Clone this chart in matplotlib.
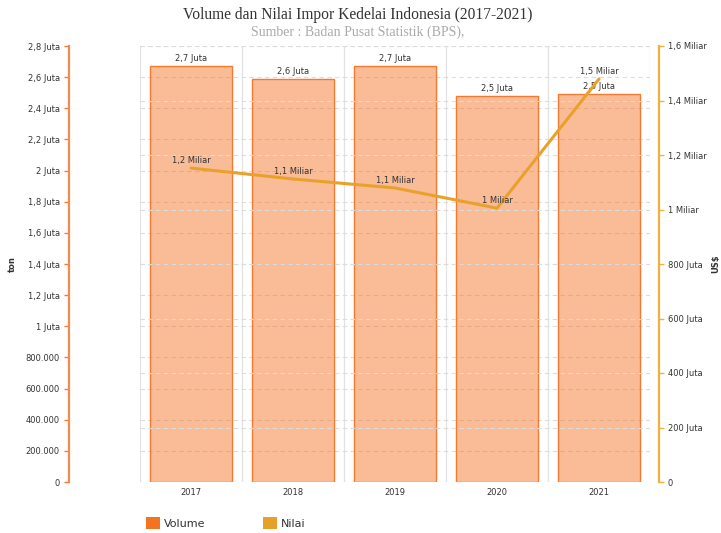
import matplotlib
matplotlib.use("Agg")
import matplotlib.pyplot as plt
from matplotlib.patches import Patch
from matplotlib.ticker import FuncFormatter, MultipleLocator
import numpy as np

years = ["2017", "2018", "2019", "2020", "2021"]
volume_ton = [2671000, 2588000, 2671000, 2479000, 2490000]
nilai_usd = [1152e6, 1112e6, 1079e6, 1005e6, 1479e6]

title = "Volume dan Nilai Impor Kedelai Indonesia (2017-2021)"
subtitle = "Sumber : Badan Pusat Statistik (BPS),"

def fmt_dec(x):
    s = f"{x:.1f}"
    if s.endswith(".0"):
        s = s[:-2]
    return s.replace(".", ",")

def fmt_num(v, pos=None):
    if abs(v) < 1e-9:
        return "0"
    if v >= 1e9:
        return fmt_dec(v / 1e9) + " Miliar"
    if v >= 1e6:
        return fmt_dec(v / 1e6) + " Juta"
    return f"{int(round(v)):,}".replace(",", ".")

W, H = 721, 533
PX = 0.72  # points per pixel at dpi 100
fig = plt.figure(figsize=(W / 100, H / 100), dpi=100)
ax = fig.add_axes([140 / W, (H - 482) / H, (650 - 140) / W, (482 - 46) / H])
ax2 = ax.twinx()

bar_col = "#F47A30"
line_col = "#E8A22B"
grid_col = "#dcdcdc"
txt_col = "#333333"
fs = 6.0

x = np.arange(len(years))
ax.bar(x, volume_ton, width=0.8, color=bar_col, alpha=0.5, edgecolor="none", zorder=2)
ax.bar(x, volume_ton, width=0.8, fill=False, edgecolor=bar_col, linewidth=1.0, zorder=3)
ax.set_xlim(-0.5, len(years) - 0.5)
ax.set_ylim(0, 2.8e6)
ax.yaxis.set_major_locator(MultipleLocator(2e5))
ax.yaxis.set_major_formatter(FuncFormatter(fmt_num))
ax.set_xticks(x)
ax.set_xticklabels(years)
ax.set_xticks(np.arange(-0.5, len(years)), minor=True)
ax.tick_params(axis="x", which="both", length=0, labelsize=fs, labelcolor=txt_col, pad=6 * PX)
ax.tick_params(axis="y", length=5 * PX, width=1, color=bar_col, labelsize=fs, labelcolor=txt_col, pad=4 * PX)
ax.set_axisbelow(True)
ax.grid(axis="y", which="major", color=grid_col, linestyle=(0, (4, 3)), linewidth=0.8)
ax.grid(axis="x", which="minor", color="#e2e2e2", linestyle="-", linewidth=0.9)
for s in ["top", "bottom", "right"]:
    ax.spines[s].set_visible(False)
ax.spines["left"].set_position(("outward", 71 * PX))
ax.spines["left"].set_color("#F58A4F")
ax.spines["left"].set_linewidth(1.6)
ax.set_ylabel("ton", fontsize=fs, fontweight="bold", color=txt_col)
ax.yaxis.set_label_coords(-(140 - 17) / 510, 0.5)

for xi, v in zip(x, volume_ton):
    ax.annotate(fmt_num(v), (xi, v), xytext=(0, 2), textcoords="offset points",
                ha="center", va="bottom", fontsize=fs, color=txt_col, zorder=5)

ax2.plot(x, nilai_usd, color=line_col, linewidth=2.2, zorder=4, solid_capstyle="round")
ax2.set_ylim(0, 1.6e9)
ax2.yaxis.set_major_locator(MultipleLocator(2e8))
ax2.yaxis.set_major_formatter(FuncFormatter(fmt_num))
ax2.tick_params(axis="y", length=5 * PX, width=1, color="#F0B040", labelsize=fs, labelcolor=txt_col, pad=4 * PX)
ax2.grid(axis="y", color=grid_col, linestyle=(0, (4, 3)), linewidth=0.8)
for s in ["top", "bottom", "left"]:
    ax2.spines[s].set_visible(False)
ax2.spines["right"].set_position(("outward", 9 * PX))
ax2.spines["right"].set_color("#F0B040")
ax2.spines["right"].set_linewidth(1.6)
ax2.set_ylabel("US$", fontsize=fs, fontweight="bold", color=txt_col, rotation=90)
ax2.yaxis.set_label_coords((711 - 140) / 510, 0.5)
for xi, v in zip(x, nilai_usd):
    ax2.annotate(fmt_num(v), (xi, v), xytext=(0, 2.5), textcoords="offset points",
                 ha="center", va="bottom", fontsize=fs, color=txt_col, zorder=5)

fig.text(358 / W, 1 - 15 / H, title, ha="center", va="center",
         fontsize=11.2, family="Liberation Serif", color="#333333")
fig.text(358 / W, 1 - 32 / H, subtitle, ha="center", va="center",
         fontsize=10, family="Liberation Serif", color="#aaaaaa")

handles = [Patch(facecolor="#F47320", edgecolor="none", label="Volume"),
           Patch(facecolor="#E5A12A", edgecolor="none", label="Nilai")]
fig.legend(handles=handles, loc="center left", bbox_to_anchor=(146 / W, 1 - 523 / H),
           bbox_transform=fig.transFigure, ncol=2, frameon=False, fontsize=8,
           handlelength=1.25, handleheight=1.25, handletextpad=0.35,
           columnspacing=5.2, borderpad=0, borderaxespad=0, labelcolor=txt_col)

fig.savefig("out.png", dpi=100)
